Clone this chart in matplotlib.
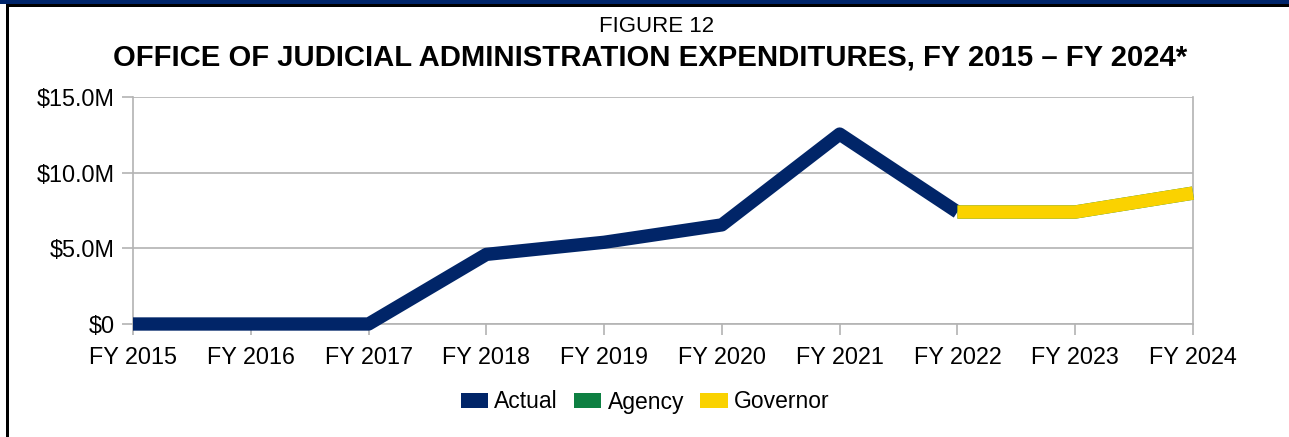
import matplotlib
matplotlib.use("Agg")
import matplotlib.pyplot as plt
from matplotlib.patches import Patch, Rectangle
from matplotlib.ticker import FuncFormatter

plt.rcParams['font.family'] = ['Liberation Sans', 'DejaVu Sans']

# ---- data ----
years = ["FY 2015", "FY 2016", "FY 2017", "FY 2018", "FY 2019",
         "FY 2020", "FY 2021", "FY 2022", "FY 2023", "FY 2024"]
actual_years = years[:8]
actual = [0.0, 0.0, 0.0, 4.6, 5.4, 6.55, 12.55, 7.4]          # $M
proj_years = years[7:]
agency = [7.4, 7.4, 8.65]                                      # $M
governor = [7.4, 7.4, 8.65]                                    # $M
yticks = [0, 5, 10, 15]

NAVY = "#012568"
GREEN = "#0E8042"
YELLOW = "#FAD200"
GRID = "#b3b3b3"

W, H = 1289, 437
fig = plt.figure(figsize=(W / 100, H / 100), dpi=100)
ax = fig.add_axes([133 / W, 1 - 324 / H, (1193 - 133) / W, (324 - 97) / H])

xi = {y: i for i, y in enumerate(years)}
lw = 9.6
ax.plot([xi[y] for y in actual_years], actual, color=NAVY, lw=lw,
        solid_joinstyle='round', solid_capstyle='butt', zorder=3, clip_on=False)
ax.plot([xi[y] for y in proj_years], agency, color=GREEN, lw=lw,
        solid_joinstyle='round', solid_capstyle='butt', zorder=4, clip_on=False)
ax.plot([xi[y] for y in proj_years], governor, color=YELLOW, lw=lw,
        solid_joinstyle='round', solid_capstyle='butt', zorder=5, clip_on=False)

ax.set_xlim(0, len(years) - 1)
ax.set_ylim(0, 15)
ax.set_xticks(range(len(years)))
ax.set_xticklabels(years)
ax.set_yticks(yticks)
ax.yaxis.set_major_formatter(FuncFormatter(lambda v, p: "$0" if v == 0 else f"${v:.1f}M"))
ax.grid(axis='y', color=GRID, lw=1.2)
ax.set_axisbelow(True)
for s in ['left', 'bottom', 'right']:
    ax.spines[s].set_color(GRID)
    ax.spines[s].set_linewidth(1.2)
ax.spines['top'].set_visible(False)
ax.tick_params(axis='both', colors=GRID, labelcolor='black', length=8, width=1.2,
               labelsize=16.8)
ax.tick_params(axis='x', pad=8)
ax.tick_params(axis='y', pad=5)

# titles
fig.text(657 / W, 1 - 27 / H, "FIGURE 12", ha='center', va='center', fontsize=16)
fig.text(650 / W, 1 - 57 / H,
         "OFFICE OF JUDICIAL ADMINISTRATION EXPENDITURES, FY 2015 \u2013 FY 2024*",
         ha='center', va='center', fontsize=21.1, fontweight='bold')

# legend
handles = [Patch(facecolor=NAVY, edgecolor='none'),
           Patch(facecolor=GREEN, edgecolor='none'),
           Patch(facecolor=YELLOW, edgecolor='none')]
fig.legend(handles, ["Actual", "Agency", "Governor"], loc='center',
           bbox_to_anchor=(645 / W, 1 - 402 / H), ncol=3, frameon=False,
           fontsize=16.5, handlelength=1.2, handleheight=0.6, handletextpad=0.27,
           columnspacing=0.7, borderpad=0)

# frame decorations
fig.patches.append(Rectangle((6 / W, 0), 3 / W, 1, transform=fig.transFigure,
                             facecolor='black', edgecolor='none'))
fig.patches.append(Rectangle((6 / W, 1 - 7 / H), 1, 3 / H, transform=fig.transFigure,
                             facecolor='black', edgecolor='none'))
fig.patches.append(Rectangle((0, 1 - 4 / H), 1, 4 / H, transform=fig.transFigure,
                             facecolor='#00256b', edgecolor='none'))

fig.savefig("out.png", dpi=100)
